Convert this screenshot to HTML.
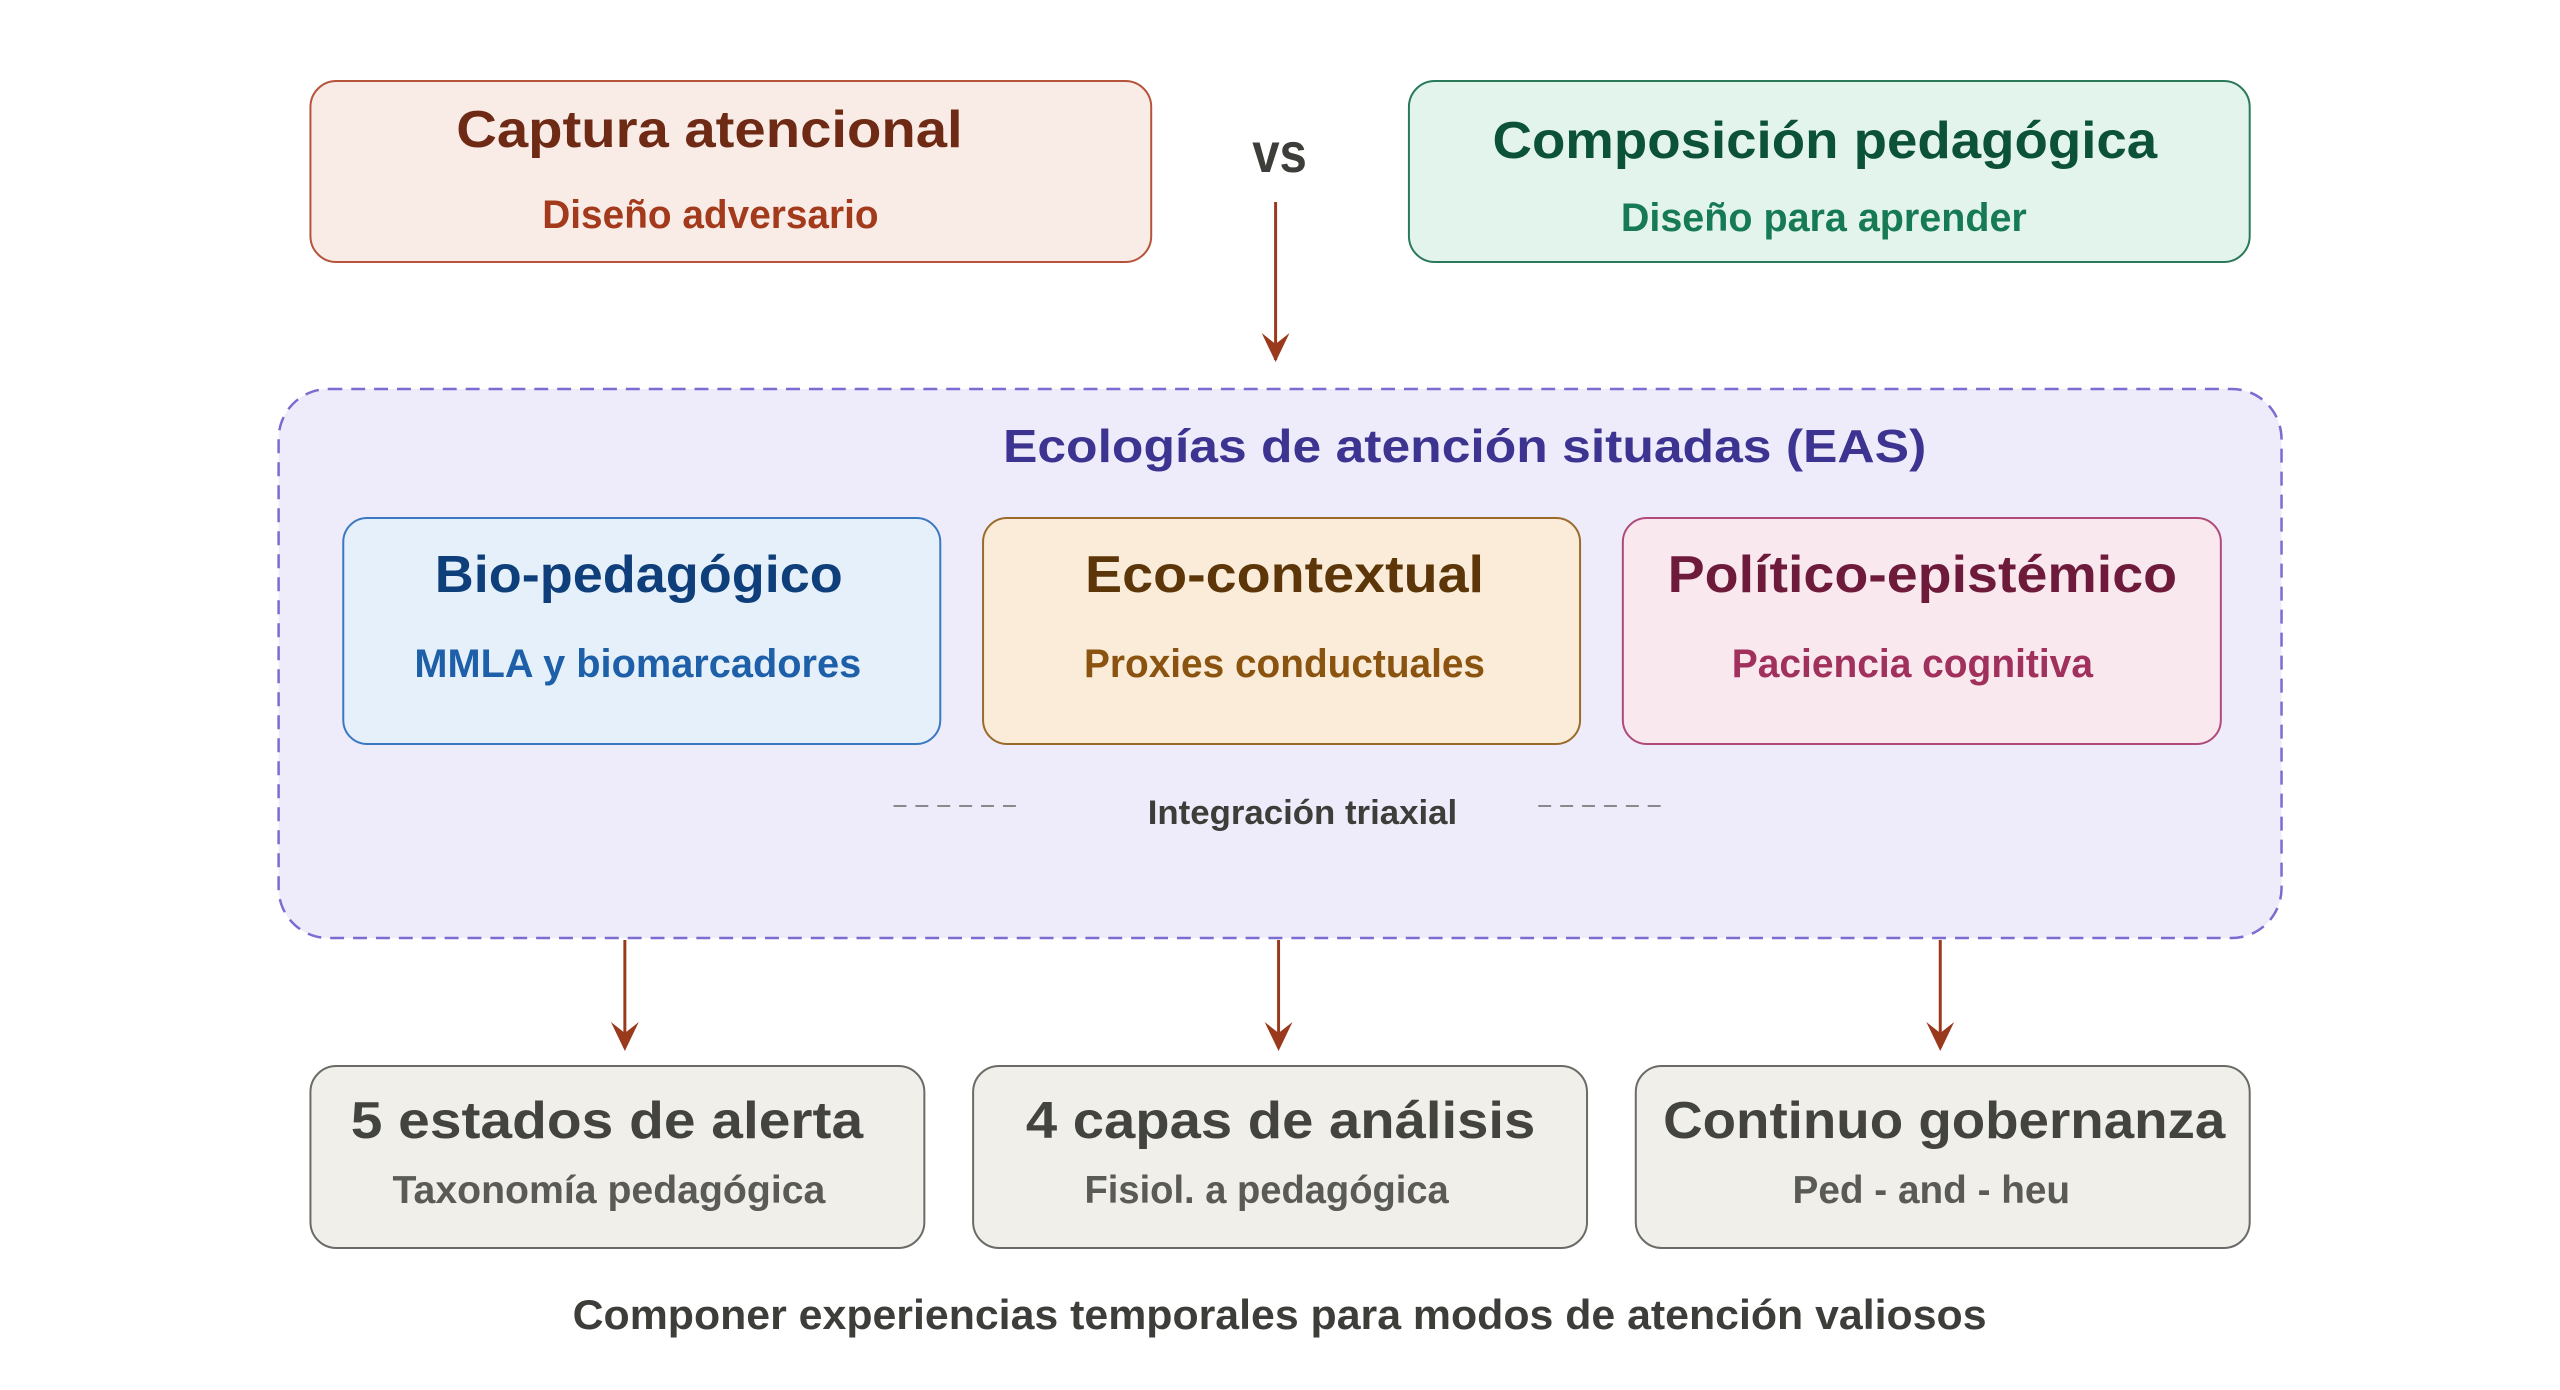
<!DOCTYPE html>
<html><head><meta charset="utf-8"><style>html,body{margin:0;padding:0;background:#fff}svg{display:block}text{font-family:"Liberation Sans",sans-serif;font-weight:bold;text-anchor:middle}</style></head>
<body>
<svg width="2560" height="1390" viewBox="0 0 2560 1390" xmlns="http://www.w3.org/2000/svg">
<g transform="scale(0.995 1)">
<rect x="312" y="81" width="845" height="181" rx="26" fill="#f9ece7" stroke="#b5543a" stroke-width="2"/>
<text x="713" y="147" font-size="52" fill="#6e2a14" textLength="509" lengthAdjust="spacingAndGlyphs">Captura atencional</text>
<text x="714" y="228" font-size="40" fill="#a33a1c" textLength="338" lengthAdjust="spacingAndGlyphs">Diseño adversario</text>
<rect x="1416" y="81" width="845" height="181" rx="26" fill="#e2f4ec" stroke="#2a7a5a" stroke-width="2"/>
<text x="1834" y="158" font-size="52" fill="#0b5238" textLength="668" lengthAdjust="spacingAndGlyphs">Composición pedagógica</text>
<text x="1833" y="231" font-size="40" fill="#167a55" textLength="408" lengthAdjust="spacingAndGlyphs">Diseño para aprender</text>
<text x="1286" y="172" font-size="56" fill="#3d3d3a" textLength="55" lengthAdjust="spacingAndGlyphs">vs</text>
<line x1="1282" y1="202" x2="1282" y2="360" stroke="#9a3a1c" stroke-width="3"/>
<path d="M1268,333 L1282,344 L1296,333 L1282,362 Z" fill="#9a3a1c"/>
<rect x="280" y="389" width="2013" height="549" rx="50" fill="#eeecfb" stroke="#7a6cd0" stroke-width="2.5" stroke-dasharray="14,9"/>
<text x="1472" y="462" font-size="46" fill="#3c3490" textLength="928" lengthAdjust="spacingAndGlyphs">Ecologías de atención situadas (EAS)</text>
<rect x="345" y="518" width="600" height="226" rx="24" fill="#e6f0fa" stroke="#3a78c0" stroke-width="2"/>
<text x="642" y="592" font-size="52" fill="#0f3f7a" textLength="410" lengthAdjust="spacingAndGlyphs">Bio-pedagógico</text>
<text x="641" y="677" font-size="40" fill="#1d5fa8" textLength="449" lengthAdjust="spacingAndGlyphs">MMLA y biomarcadores</text>
<rect x="988" y="518" width="600" height="226" rx="24" fill="#faecd8" stroke="#9a6a2a" stroke-width="2"/>
<text x="1291" y="592" font-size="52" fill="#5c3608" textLength="401" lengthAdjust="spacingAndGlyphs">Eco-contextual</text>
<text x="1291" y="677" font-size="40" fill="#8a5410" textLength="403" lengthAdjust="spacingAndGlyphs">Proxies conductuales</text>
<rect x="1631" y="518" width="601" height="226" rx="24" fill="#fae8ef" stroke="#b04a78" stroke-width="2"/>
<text x="1932" y="592" font-size="52" fill="#6e1a3a" textLength="512" lengthAdjust="spacingAndGlyphs">Político-epistémico</text>
<text x="1922" y="677" font-size="40" fill="#a0305c" textLength="363" lengthAdjust="spacingAndGlyphs">Paciencia cognitiva</text>
<line x1="898" y1="806" x2="1026" y2="806" stroke="#8a8a8a" stroke-width="2" stroke-dasharray="13,9"/>
<line x1="1546" y1="806" x2="1674" y2="806" stroke="#8a8a8a" stroke-width="2" stroke-dasharray="13,9"/>
<text x="1309" y="824" font-size="34" fill="#3d3d3a" textLength="311" lengthAdjust="spacingAndGlyphs">Integración triaxial</text>
<g stroke="#9a3a1c" stroke-width="3">
<line x1="628" y1="940" x2="628" y2="1048"/><line x1="1285" y1="940" x2="1285" y2="1048"/><line x1="1950" y1="940" x2="1950" y2="1048"/></g>
<g fill="#9a3a1c">
<path d="M614,1022 L628,1033 L642,1022 L628,1051 Z"/>
<path d="M1271,1022 L1285,1033 L1299,1022 L1285,1051 Z"/>
<path d="M1936,1022 L1950,1033 L1964,1022 L1950,1051 Z"/></g>
<rect x="312" y="1066" width="617" height="182" rx="26" fill="#f1efe9" stroke="#6a6a66" stroke-width="2"/>
<text x="610" y="1138" font-size="52" fill="#43433f" textLength="515" lengthAdjust="spacingAndGlyphs">5 estados de alerta</text>
<text x="612" y="1203" font-size="39" fill="#5a5a56" textLength="435" lengthAdjust="spacingAndGlyphs">Taxonomía pedagógica</text>
<rect x="978" y="1066" width="617" height="182" rx="26" fill="#f1efe9" stroke="#6a6a66" stroke-width="2"/>
<text x="1287" y="1138" font-size="52" fill="#43433f" textLength="512" lengthAdjust="spacingAndGlyphs">4 capas de análisis</text>
<text x="1273" y="1203" font-size="39" fill="#5a5a56" textLength="366" lengthAdjust="spacingAndGlyphs">Fisiol. a pedagógica</text>
<rect x="1644" y="1066" width="617" height="182" rx="26" fill="#f1efe9" stroke="#6a6a66" stroke-width="2"/>
<text x="1954" y="1138" font-size="52" fill="#43433f" textLength="565" lengthAdjust="spacingAndGlyphs">Continuo gobernanza</text>
<text x="1941" y="1203" font-size="39" fill="#5a5a56" textLength="279" lengthAdjust="spacingAndGlyphs">Ped - and - heu</text>
<text x="1286" y="1329" font-size="42" fill="#3d3d3a" textLength="1421" lengthAdjust="spacingAndGlyphs">Componer experiencias temporales para modos de atención valiosos</text>
</g>
</svg>
</body></html>
